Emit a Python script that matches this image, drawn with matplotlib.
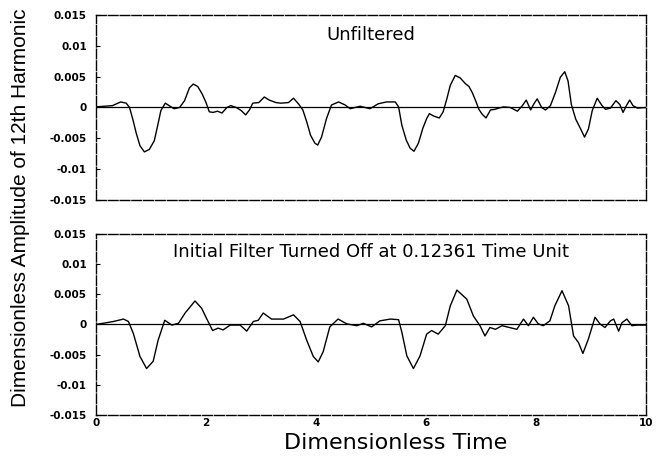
import numpy as np
import matplotlib
matplotlib.use('Agg')
import matplotlib.pyplot as plt

plt.rcParams['font.family'] = ['DejaVu Sans']

# unfiltered 12th harmonic
t_unfilt = [0.00, 0.30, 0.45, 0.55, 0.61, 0.67, 0.73, 0.80, 0.88, 0.97, 1.06, 1.12,
            1.18, 1.26, 1.33, 1.42, 1.52, 1.61, 1.70, 1.77, 1.85, 1.93, 2.00, 2.06,
            2.13, 2.21, 2.29, 2.38, 2.45, 2.55, 2.64, 2.72, 2.79, 2.85, 2.96, 3.06,
            3.15, 3.27, 3.36, 3.50, 3.59, 3.68, 3.76, 3.83, 3.90, 3.98, 4.03, 4.10,
            4.19, 4.28, 4.41, 4.53, 4.62, 4.80, 4.98, 5.13, 5.28, 5.44, 5.50, 5.56,
            5.64, 5.71, 5.78, 5.86, 5.94, 6.01, 6.06, 6.14, 6.24, 6.31, 6.38, 6.44,
            6.53, 6.62, 6.71, 6.78, 6.84, 6.90, 6.96, 7.02, 7.09, 7.17, 7.25, 7.32,
            7.41, 7.53, 7.66, 7.75, 7.82, 7.90, 7.96, 8.02, 8.10, 8.17, 8.26, 8.35,
            8.44, 8.52, 8.58, 8.64, 8.72, 8.81, 8.88, 8.95, 9.02, 9.11, 9.19, 9.26,
            9.35, 9.45, 9.52, 9.58, 9.64, 9.70, 9.76, 9.84, 10.0]
a_unfilt = [0.0001, 0.0003, 0.0009, 0.0007, 0.0000, -0.0019, -0.0041, -0.0062, -0.0072, -0.0068, -0.0054, -0.0030,
            -0.0005, 0.0007, 0.0003, -0.0002, 0.0000, 0.0011, 0.0032, 0.0038, 0.0034, 0.0022, 0.0008, -0.0007,
            -0.0008, -0.0006, -0.0009, 0.0000, 0.0003, 0.0000, -0.0005, -0.0012, -0.0004, 0.0007, 0.0008, 0.0017,
            0.0012, 0.0008, 0.0007, 0.0008, 0.0015, 0.0006, -0.0004, -0.0023, -0.0045, -0.0058, -0.0061, -0.0048,
            -0.0018, 0.0004, 0.0009, 0.0004, -0.0002, 0.0002, -0.0002, 0.0006, 0.0009, 0.0009, 0.0001, -0.0029,
            -0.0053, -0.0066, -0.0071, -0.0058, -0.0034, -0.0018, -0.0010, -0.0014, -0.0017, -0.0007, 0.0015, 0.0036,
            0.0052, 0.0048, 0.0039, 0.0034, 0.0024, 0.0011, -0.0003, -0.0011, -0.0017, -0.0004, -0.0003, -0.0001,
            0.0001, 0.0000, -0.0006, 0.0003, 0.0012, -0.0004, 0.0006, 0.0014, 0.0000, -0.0004, 0.0003, 0.0024,
            0.0049, 0.0058, 0.0043, 0.0005, -0.0019, -0.0035, -0.0048, -0.0035, -0.0005, 0.0015, 0.0004, -0.0003,
            -0.0001, 0.0011, 0.0005, -0.0008, 0.0003, 0.0012, 0.0003, -0.0001, 0.0000]

# filter switched off at t = 0.12361
t_filt = [0.00, 0.32, 0.50, 0.59, 0.68, 0.80, 0.92, 1.04, 1.13, 1.25, 1.38, 1.50,
          1.62, 1.80, 1.92, 2.01, 2.12, 2.22, 2.31, 2.44, 2.62, 2.74, 2.86, 2.95,
          3.04, 3.19, 3.41, 3.59, 3.71, 3.83, 3.95, 4.04, 4.13, 4.25, 4.40, 4.56,
          4.74, 4.86, 5.01, 5.16, 5.35, 5.50, 5.56, 5.65, 5.77, 5.89, 6.01, 6.10,
          6.22, 6.35, 6.44, 6.56, 6.74, 6.86, 6.98, 7.07, 7.16, 7.26, 7.38, 7.65,
          7.77, 7.86, 7.95, 8.04, 8.13, 8.25, 8.34, 8.47, 8.59, 8.68, 8.77, 8.85,
          8.95, 9.07, 9.16, 9.25, 9.35, 9.41, 9.50, 9.56, 9.65, 9.74, 9.83, 10.0]
a_filt = [0.0000, 0.0005, 0.0009, 0.0005, -0.0015, -0.0053, -0.0073, -0.0061, -0.0026, 0.0007, -0.0001, 0.0002,
          0.0019, 0.0039, 0.0027, 0.0010, -0.0010, -0.0006, -0.0009, -0.0001, -0.0001, -0.0011, 0.0005, 0.0007,
          0.0019, 0.0009, 0.0009, 0.0016, 0.0005, -0.0026, -0.0053, -0.0062, -0.0045, -0.0004, 0.0009, 0.0001,
          -0.0002, 0.0002, -0.0004, 0.0006, 0.0009, 0.0008, -0.0013, -0.0052, -0.0073, -0.0052, -0.0016, -0.0010,
          -0.0016, -0.0002, 0.0031, 0.0057, 0.0042, 0.0014, -0.0002, -0.0019, -0.0005, -0.0008, -0.0002, -0.0008,
          0.0009, -0.0002, 0.0012, 0.0001, -0.0002, 0.0006, 0.0031, 0.0056, 0.0031, -0.0019, -0.0030, -0.0048,
          -0.0024, 0.0012, 0.0001, -0.0005, 0.0006, 0.0009, -0.0011, 0.0003, 0.0009, -0.0002, -0.0001, -0.0001]

y_ticks = [0.015, 0.01, 0.005, 0, -0.005, -0.01, -0.015]
y_labels = ['0.015', '0.01', '0.005', '0', '-0.005', '-0.01', '-0.015']
x_ticks = [0, 2, 4, 6, 8, 10]
x_labels = ['0', '2', '4', '6', '8', '10']

titles = ['Unfiltered', 'Initial Filter Turned Off at 0.12361 Time Unit']


def setup_panel(ax, title, title_y, show_x):
    ax.set_xlim(0, 10)
    ax.set_ylim(-0.015, 0.015)
    ax.axhline(0, color='black', linewidth=0.9)
    ax.set_yticks(y_ticks)
    ax.set_yticklabels(y_labels, fontsize=7.5, fontweight='bold')
    ax.set_xticks(x_ticks)
    if show_x:
        ax.set_xticklabels(x_labels, fontsize=7.5, fontweight='bold')
    else:
        ax.set_xticklabels([])
    ax.tick_params(axis='y', direction='in', length=3, width=0.8, pad=6.5, right=False)
    ax.tick_params(axis='x', direction='in', length=0, pad=2, top=False)
    for sp in ax.spines.values():
        sp.set_linewidth(1.0)
        sp.set_linestyle((0, (7, 1.5)))
    ax.text(0.5, title_y, title, transform=ax.transAxes, ha='center', va='center', fontsize=13)


fig = plt.figure(figsize=(6.71, 4.57), dpi=100)
ax1 = fig.add_axes([0.143, 0.5624, 0.820, 0.4048])
ax2 = fig.add_axes([0.143, 0.0919, 0.820, 0.3961])

ax1.plot(t_unfilt, a_unfilt, color='black', linewidth=1.0)
ax2.plot(t_filt, a_filt, color='black', linewidth=1.0)
setup_panel(ax1, titles[0], 0.89, False)
setup_panel(ax2, titles[1], 0.90, True)

fig.text(0.589, 0.031, 'Dimensionless Time', ha='center', va='center', fontsize=16)
fig.text(0.030, 0.545, 'Dimensionless Amplitude of 12th Harmonic', rotation=90,
         ha='center', va='center', fontsize=15, family='Liberation Sans')

fig.savefig('out.png', dpi=100)
